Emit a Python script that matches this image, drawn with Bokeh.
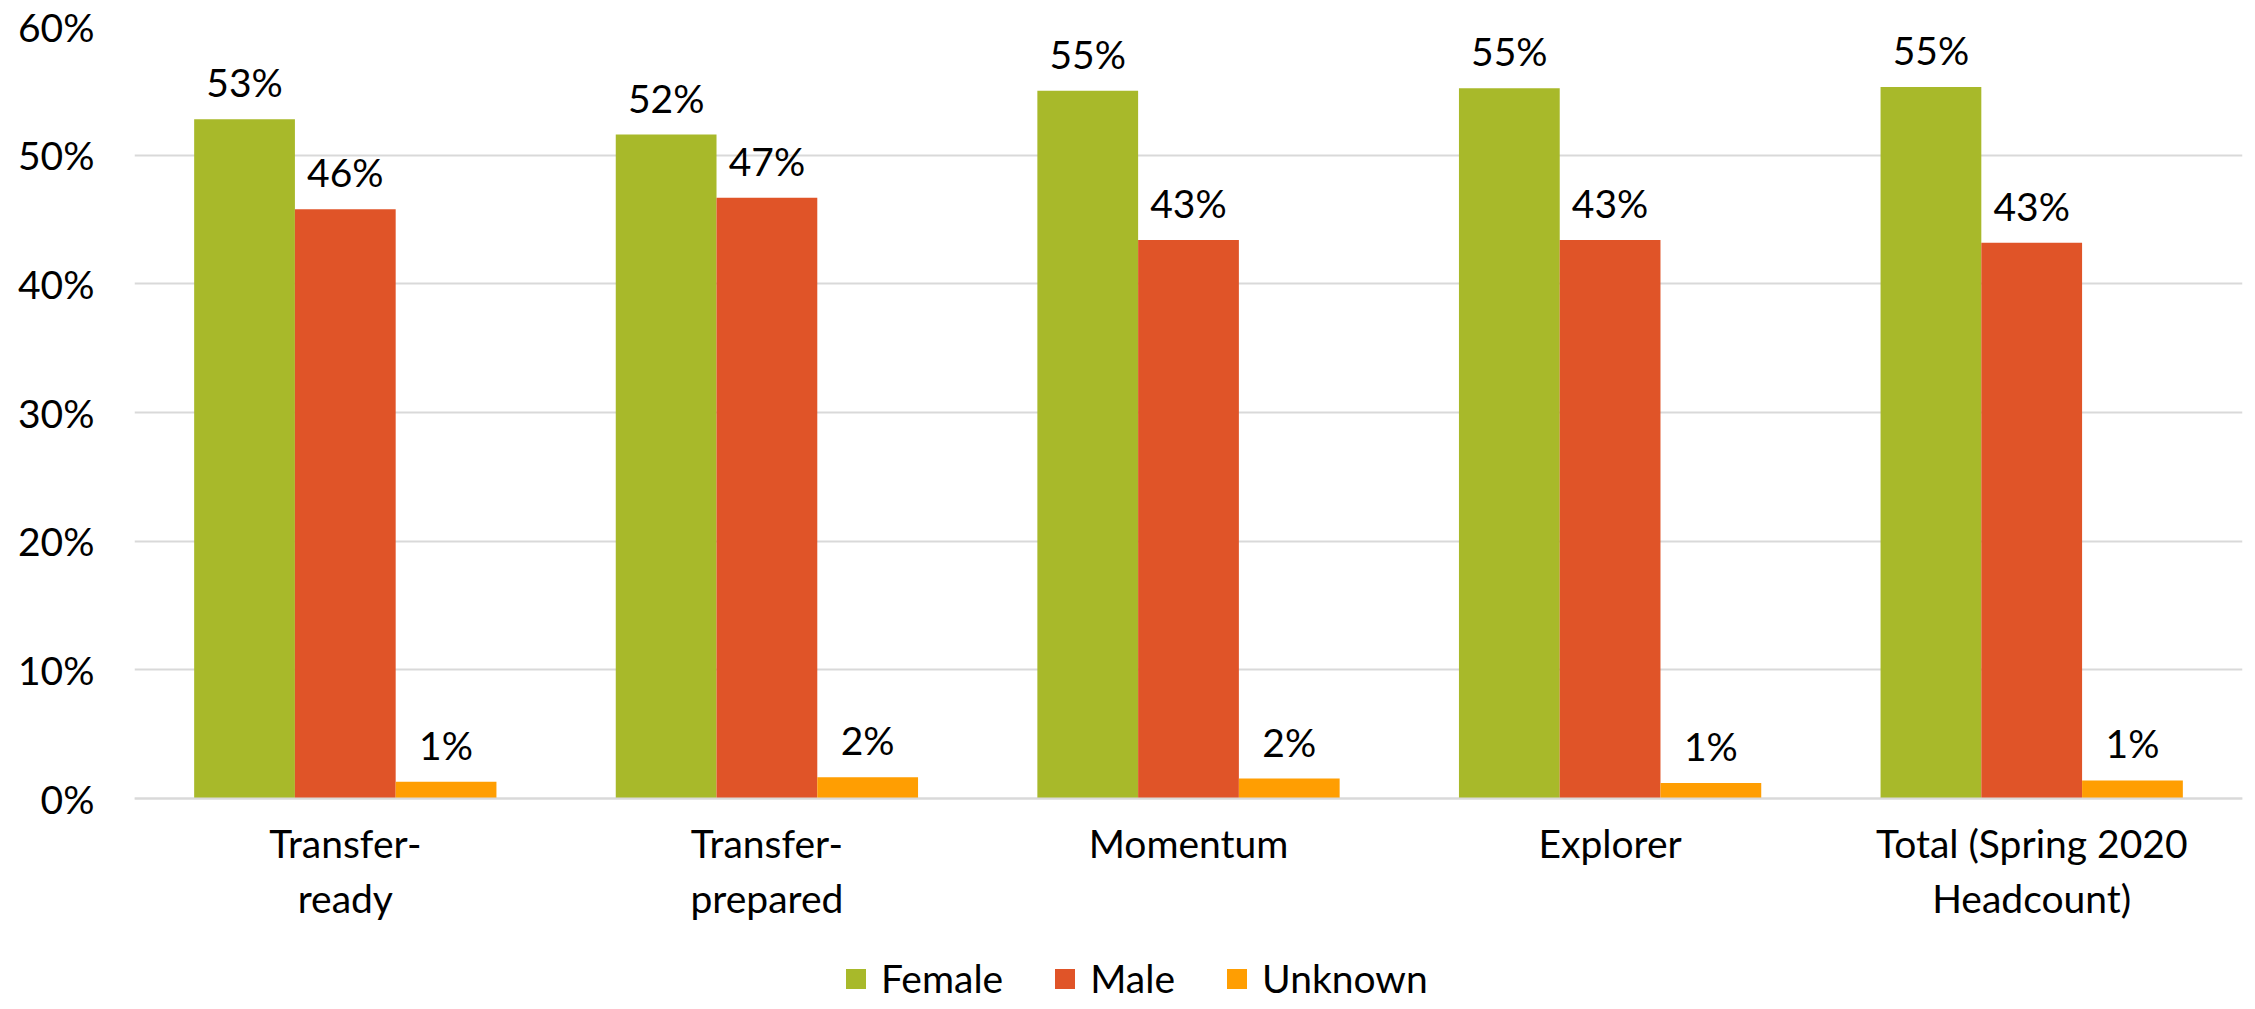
from bokeh.plotting import figure
from bokeh.models import (ColumnDataSource, FactorRange, Range1d, FixedTicker,
                          NumeralTickFormatter, Legend, LegendItem)
from bokeh.transform import dodge
from bokeh.core.properties import value
from bokeh.embed import file_html
from bokeh.resources import INLINE

categories = ["Transfer-\nready", "Transfer-\nprepared", "Momentum", "Explorer",
              "Total (Spring 2020\nHeadcount)"]
female = [0.528, 0.516, 0.550, 0.552, 0.553]
male = [0.458, 0.467, 0.434, 0.434, 0.432]
unknown = [0.013, 0.0165, 0.0155, 0.012, 0.014]
series_names = ["Female", "Male", "Unknown"]
colors = ["#A8B92A", "#E05428", "#FF9E02"]
y_ticks = [0, 0.1, 0.2, 0.3, 0.4, 0.5, 0.6]

FONT = "Lato"
FS = "39px"

def fmt(v):
    return f"{round(v * 100):.0f}%"

src = ColumnDataSource(dict(
    cat=categories,
    female=female, male=male, unknown=unknown,
    female_lbl=[fmt(v) for v in female],
    male_lbl=[fmt(v) for v in male],
    unknown_lbl=[fmt(v) for v in unknown],
))

W, H = 2247, 1001
FRAME_TOP = 26
FRAME_H = H - FRAME_TOP
ZERO_PX = 772          # distance from frame top to the 0% line
y_lo = -0.6 * (FRAME_H - ZERO_PX) / ZERO_PX

p = figure(width=W, height=H, output_backend="svg", toolbar_location=None,
           x_range=FactorRange(factors=categories, range_padding=0),
           y_range=Range1d(y_lo, 0.6),
           min_border_left=134, min_border_right=5, min_border_top=FRAME_TOP,
           min_border_bottom=0)
p.outline_line_color = None
p.background_fill_color = "white"
p.border_fill_color = "white"

bw = 0.239
offsets = [-bw, 0.0, bw]
keys = ["female", "male", "unknown"]
renderers = []
for key, off, col in zip(keys, offsets, colors):
    r = p.vbar(x=dodge("cat", off, range=p.x_range), top=key, width=bw,
               source=src, fill_color=col, line_color=None)
    renderers.append(r)
    p.text(x=dodge("cat", off, range=p.x_range), y=key, text=key + "_lbl",
           source=src, text_align="center", text_baseline="alphabetic",
           y_offset=-37, text_font=value(FONT), text_font_size=FS,
           text_color="#000000")

# axes
p.yaxis.ticker = FixedTicker(ticks=y_ticks)
p.yaxis.formatter = NumeralTickFormatter(format="0%")
p.yaxis.axis_line_color = None
p.yaxis.major_tick_line_color = None
p.yaxis.major_tick_out = 0
p.yaxis.major_tick_in = 0
p.yaxis.minor_tick_line_color = None
p.yaxis.major_label_text_font = FONT
p.yaxis.major_label_text_font_size = FS
p.yaxis.major_label_text_color = "#000000"
p.yaxis.major_label_standoff = 40

p.xaxis.fixed_location = 0
p.xaxis.axis_line_color = "#D9D9D9"
p.xaxis.axis_line_width = 2
p.xaxis.major_tick_line_color = None
p.xaxis.major_tick_out = 0
p.xaxis.major_tick_in = 0
p.xaxis.minor_tick_line_color = None
p.xaxis.major_label_text_font = FONT
p.xaxis.major_label_text_font_size = FS
p.xaxis.major_label_text_color = "#000000"
p.xaxis.major_label_standoff = 21

p.xgrid.grid_line_color = None
p.ygrid.grid_line_color = "#D9D9D9"
p.ygrid.grid_line_width = 2

legend = Legend(items=[LegendItem(label=n, renderers=[r]) for n, r in zip(series_names, renderers)],
                orientation="horizontal", location=(709, 0),
                label_text_font=FONT, label_text_font_size=FS, label_text_color="#000000",
                glyph_width=25, glyph_height=25, label_standoff=13, spacing=49,
                padding=0, margin=0, border_line_color=None, background_fill_alpha=0)
p.add_layout(legend, "center")

open("out.html", "w").write(file_html(p, INLINE))
